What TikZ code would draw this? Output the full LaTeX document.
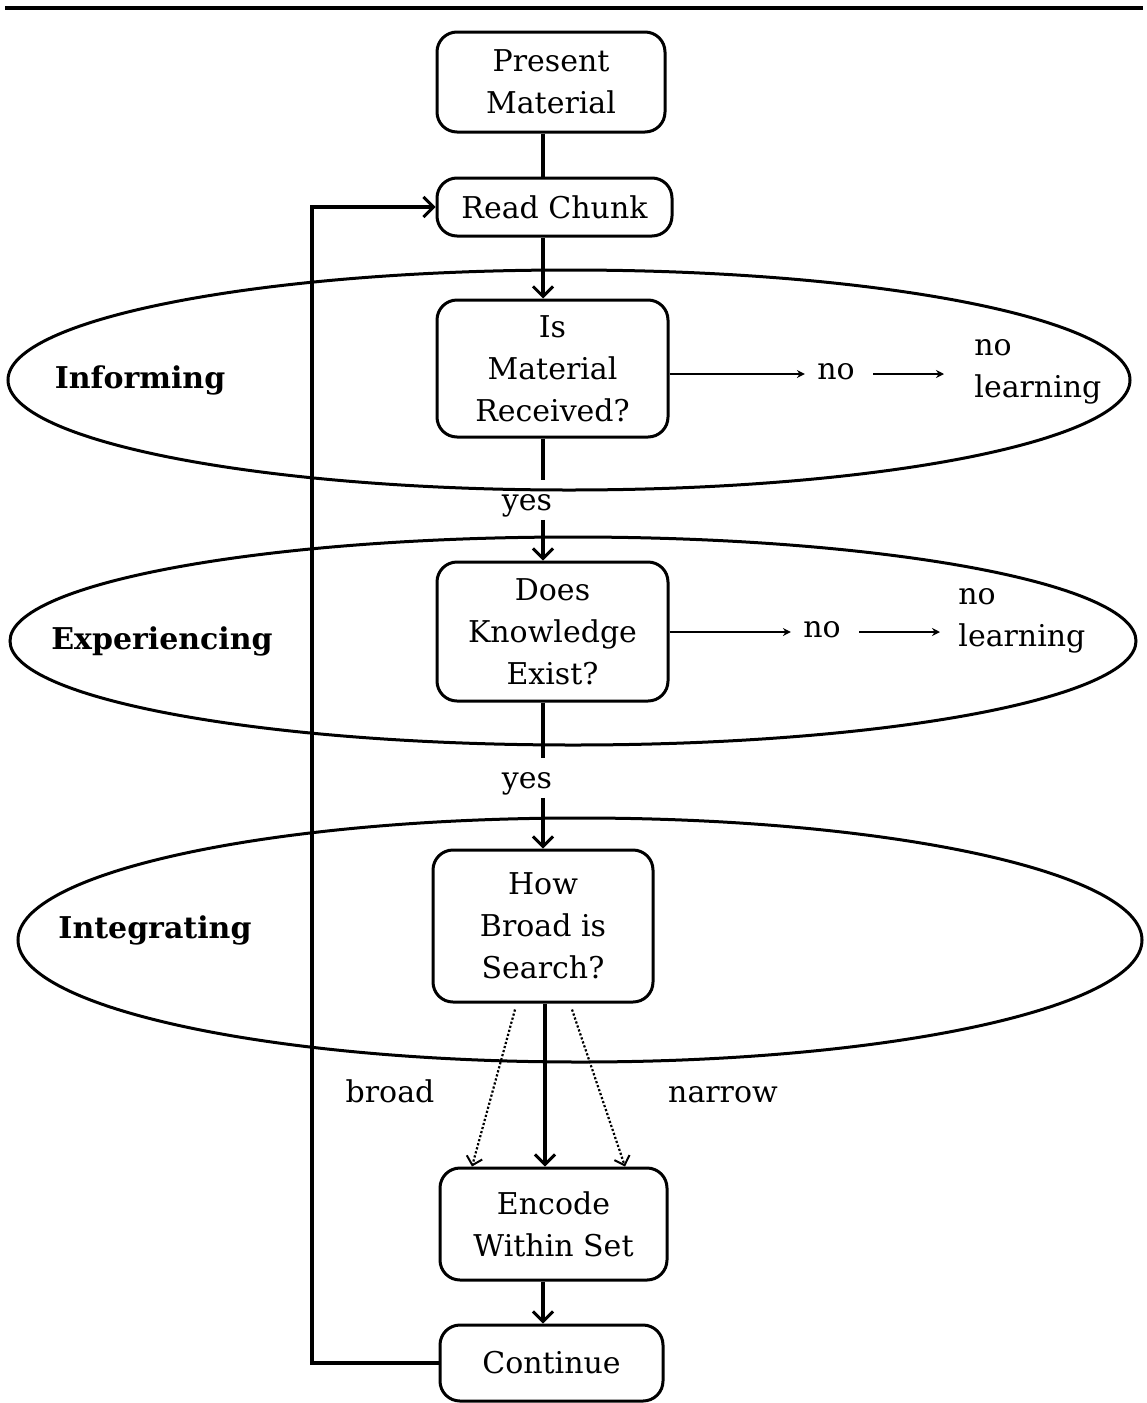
\documentclass[tikz,border=0pt]{standalone}
\usepackage{fontspec}
\setmainfont{DejaVu Serif}
\usetikzlibrary{arrows.meta}
\begin{document}
\begin{tikzpicture}[x=0.5pt,y=-0.5pt,
  box/.style={draw,line width=1.5pt,rounded corners=10pt,align=center,inner sep=0pt,
    font=\fontsize{15}{21}\selectfont},
  lbl/.style={font=\fontsize{15}{21}\selectfont,inner sep=1pt,text depth=0.25em},
  phase/.style={font=\bfseries\fontsize{15}{21}\selectfont,inner sep=0pt},
  ring/.style={line width=1.5pt},
  main/.style={line width=2pt},
  mainarrow/.style={line width=2pt,-{Straight Barb[length=5pt,width=10pt,line width=1.5pt]}},
  thinarrow/.style={line width=1pt,-{Stealth[length=4pt,width=4pt]}},
  dotarrow/.style={line width=1.1pt,densely dotted,-{Straight Barb[length=4pt,width=8pt,line width=1pt,sep=0pt]}}
]
\useasboundingbox (0,0) rectangle (1146,1403);
% top rule
\coordinate (ruleL) at (5,8);
\coordinate (ruleR) at (1143,8);
\draw[line width=2pt] (ruleL) -- (ruleR);

% ellipses
\draw[ring] (569,380) ellipse [x radius=561, y radius=110];
\draw[ring] (573,641) ellipse [x radius=563, y radius=104];
\draw[ring] (580,940) ellipse [x radius=562, y radius=122];

% phase labels
\node[phase] (inf) at (140,380) {Informing};
\node[phase] (exp) at (162,641) {Experiencing};
\node[phase] (int) at (155,930) {Integrating};

% boxes
\node[box,minimum width=114pt,minimum height=50pt] (pm) at (551,82) {Present\\Material};
\node[box,minimum width=117.5pt,minimum height=29pt] (rc) at (554.5,207) {Read Chunk};
\node[box,minimum width=115.5pt,minimum height=68.5pt] (im) at (552.5,368.5) {Is\\Material\\Received?};
\node[box,minimum width=115.5pt,minimum height=69.5pt] (dk) at (552.5,631.5) {Does\\Knowledge\\Exist?};
\node[box,minimum width=110pt,minimum height=76pt] (hb) at (543,926) {How\\Broad is\\Search?};
\node[box,minimum width=113.5pt,minimum height=56pt] (enc) at (553.5,1224) {Encode\\Within Set};
\node[box,minimum width=111.5pt,minimum height=38pt] (ct) at (551.5,1363) {Continue};

\coordinate (spine) at (543,0);
\coordinate (loopx) at (312,800);

% yes labels
\node[lbl] (yes1) at (527,505) {yes};
\node[lbl] (yes2) at (527,783) {yes};

% no labels
\node[lbl] (no1) at (836,374) {no};
\node[lbl,align=left,anchor=west,text depth=0pt] (nl1) at (972,368) {no\\learning};
\node[lbl] (no2) at (822,632) {no};
\node[lbl,align=left,anchor=west,text depth=0pt] (nl2) at (956,617) {no\\learning};

% broad / narrow
\node[lbl,anchor=base] (broad) at (390,1102) {broad};
\node[lbl,anchor=base] (narrow) at (723,1102) {narrow};

% main flow
\draw[main] (pm.south -| spine) -- (rc.north -| spine);
\draw[mainarrow] (rc.south -| spine) -- (im.north -| spine);
\draw[main] (im.south -| spine) -- ([yshift=6pt]yes1.north -| spine);
\draw[mainarrow] ([yshift=-1pt]yes1.south -| spine) -- (dk.north -| spine);
\draw[main] (dk.south -| spine) -- ([yshift=6pt]yes2.north -| spine);
\draw[mainarrow] ([yshift=-1pt]yes2.south -| spine) -- (hb.north -| spine);
\draw[mainarrow] ([xshift=1pt]hb.south) -- ([xshift=1pt]hb.south |- enc.north);
\draw[dotarrow] ([xshift=-14pt,yshift=-3pt]hb.south) -- ([xshift=-40.75pt]enc.north);
\draw[dotarrow] ([xshift=14.5pt,yshift=-3pt]hb.south) -- ([xshift=35.75pt]enc.north);
\draw[mainarrow] (enc.south -| spine) -- (ct.north -| spine);
\draw[mainarrow] (ct.west) -| (loopx) |- (rc.west);

% no branches
\draw[thinarrow,shorten >=5pt] (im.east |- no1) -- (no1.west);
\draw[thinarrow,shorten <=8pt,shorten >=14pt] (no1.east) -- (nl1.west |- no1);
\draw[thinarrow,shorten >=5pt] (dk.east |- no2) -- (no2.west);
\draw[thinarrow,shorten <=8pt,shorten >=8pt] (no2.east) -- (nl2.west |- no2);
\end{tikzpicture}
\end{document}
